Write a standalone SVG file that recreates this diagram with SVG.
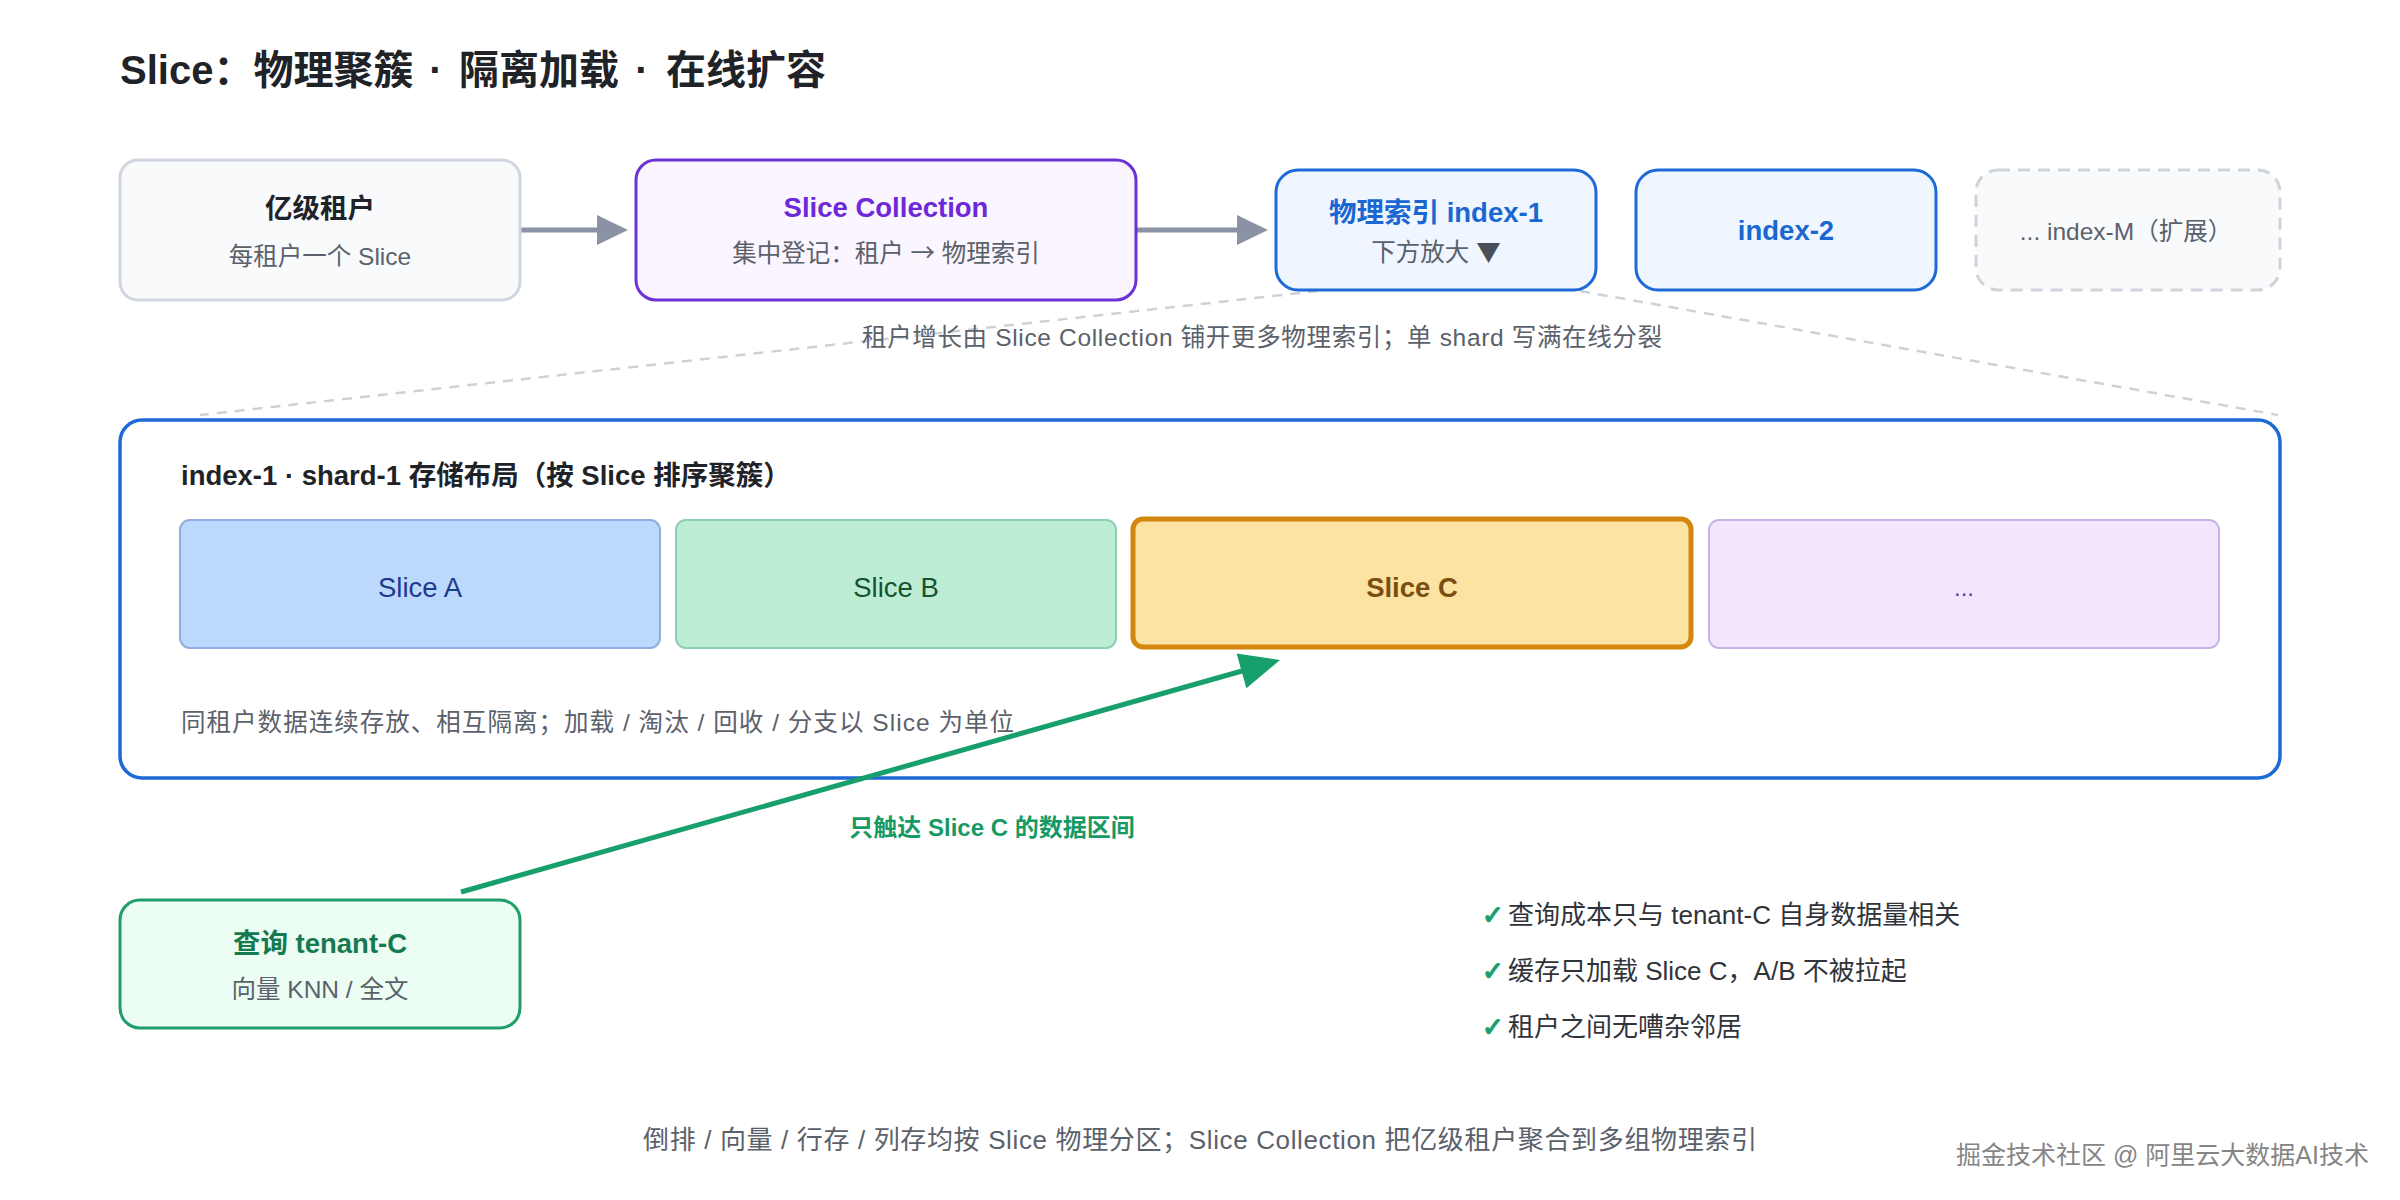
<svg xmlns="http://www.w3.org/2000/svg" width="2400" height="1200" viewBox="0 0 2400 1200">
<style>
text{font-family:"Liberation Sans","Noto Sans CJK SC",sans-serif}
.t{font-size:27.5px;font-weight:bold}
.s{font-size:24.5px;fill:#5b616b}
.c{text-anchor:middle}
.cjk{font-family:"Noto Sans CJK SC",sans-serif}
.hdr{stroke-width:3}
.slice{stroke-width:2}
.dash{stroke:#cdd2da;stroke-width:2.5;stroke-dasharray:10 8;fill:none}
.gray{stroke:#8a93a3;stroke-width:5;fill:none}
.green{stroke:#17a06b;stroke-width:5;fill:none}
.chk{fill:#17a06b;stroke:#17a06b;stroke-width:1.3;font-family:"DejaVu Sans",sans-serif;font-size:26px}
.li{font-size:26px;fill:#30343a}
</style>
<rect width="2400" height="1200" fill="#ffffff"/>
<g id="title">
<text x="120" y="84" font-size="40" font-weight="bold" fill="#1f2328">Slice：物理聚簇</text>
<text x="436" y="84" font-size="40" font-weight="bold" fill="#1f2328" text-anchor="middle">·</text>
<text x="459" y="84" font-size="40" font-weight="bold" fill="#1f2328">隔离加载</text>
<text x="642" y="84" font-size="40" font-weight="bold" fill="#1f2328" text-anchor="middle">·</text>
<text x="666" y="84" font-size="40" font-weight="bold" fill="#1f2328">在线扩容</text>
</g>
<g id="connectors">
<line class="dash" x1="1318" y1="291" x2="200" y2="415"/>
<line class="dash" x1="1580" y1="291" x2="2278" y2="415"/>
<line class="gray" x1="520" y1="230" x2="600" y2="230"/>
<polygon points="597,215 628,230 597,245" fill="#8a93a3"/>
<line class="gray" x1="1136" y1="230" x2="1240" y2="230"/>
<polygon points="1237,215 1268,230 1237,245" fill="#8a93a3"/>
</g>
<g id="tenants">
<rect x="120" y="160" width="400" height="140" rx="18" fill="#f8fafc" stroke="#cfd6df" class="hdr"/>
<text class="t c" x="320" y="218" fill="#1f2328">亿级租户</text>
<text class="s c" x="320" y="265">每租户一个 Slice</text>
</g>
<g id="slice-collection">
<rect x="636" y="160" width="500" height="140" rx="20" fill="#faf5ff" stroke="#6d32d6" class="hdr"/>
<text class="t c" x="886" y="217" fill="#6d28d9">Slice Collection</text>
<text class="s c" x="886" y="262">集中登记：租户 <tspan class="cjk">→</tspan> 物理索引</text>
</g>
<g id="index-1">
<rect x="1276" y="170" width="320" height="120" rx="22" fill="#eff6ff" stroke="#1d6ad6" class="hdr"/>
<text class="t c" x="1436" y="222" fill="#1a66d2">物理索引 index-1</text>
<text class="s c" x="1436" y="261">下方放大 <tspan class="cjk" fill="#4a4f57">▼</tspan></text>
</g>
<g id="index-2">
<rect x="1636" y="170" width="300" height="120" rx="22" fill="#eff6ff" stroke="#1d6ad6" class="hdr"/>
<text class="t c" x="1786" y="240" fill="#1a66d2">index-2</text>
</g>
<g id="index-M">
<rect x="1976" y="170" width="304" height="120" rx="22" fill="#f8fafc" stroke="#cfd3da" stroke-width="3" stroke-dasharray="12 8"/>
<text class="s c" x="2126" y="240">... index-M（扩展）</text>
</g>
<text class="s c" x="1262" y="346" textLength="800" lengthAdjust="spacing">租户增长由 Slice Collection 铺开更多物理索引；单 shard 写满在线分裂</text>
<g id="shard-1">
<rect x="120" y="420" width="2160" height="358" rx="22" fill="#ffffff" stroke="#1d6ad6" stroke-width="3.5"/>
<text class="t" x="181" y="485" fill="#1f2328">index-1 · shard-1 存储布局（按 Slice 排序聚簇）</text>
<text class="s" x="181" y="731" textLength="833" lengthAdjust="spacing">同租户数据连续存放、相互隔离；加载 / 淘汰 / 回收 / 分支以 Slice 为单位</text>
</g>
<g id="slice-a">
<rect x="180" y="520" width="480" height="128" rx="10" fill="#bdd8fd" stroke="#8eaee0" class="slice"/>
<text class="c" x="420" y="597" font-size="27.5" fill="#1e3a8a">Slice A</text>
</g>
<g id="slice-b">
<rect x="676" y="520" width="440" height="128" rx="10" fill="#bdecd4" stroke="#8fceae" class="slice"/>
<text class="c" x="896" y="597" font-size="27.5" fill="#14532d">Slice B</text>
</g>
<g id="slice-c">
<rect x="1133" y="519" width="558" height="128" rx="10" fill="#fde3a2" stroke="#d4870e" stroke-width="5"/>
<text class="c" x="1412" y="597" font-size="27.5" font-weight="bold" fill="#7a4e12">Slice C</text>
</g>
<g id="slice-more">
<rect x="1709" y="520" width="510" height="128" rx="10" fill="#f2e7ff" stroke="#c8b2e6" class="slice"/>
<text class="c" x="1964" y="596" font-size="24" fill="#5b3e96">...</text>
</g>
<g id="query">
<rect x="120" y="900" width="400" height="128" rx="20" fill="#ecfdf3" stroke="#1f9d6a" stroke-width="3"/>
<text class="t c" x="320" y="953" fill="#157a4f">查询 tenant-C</text>
<text class="s c" x="320" y="998">向量 KNN / 全文</text>
</g>
<g id="query-connector">
<line class="green" x1="461" y1="892" x2="1242" y2="671"/>
<polygon points="1280,660 1236.6,653.6 1246.4,688.2" fill="#17a06b"/>
<text class="c" x="992" y="836" font-size="24" font-weight="bold" fill="#169a63">只触达 Slice C 的数据区间</text>
</g>
<g id="benefits">
<text class="chk" x="1482" y="924">✓</text>
<text class="li" x="1508" y="924">查询成本只与 tenant-C 自身数据量相关</text>
<text class="chk" x="1482" y="980">✓</text>
<text class="li" x="1508" y="980">缓存只加载 Slice C，A/B 不被拉起</text>
<text class="chk" x="1482" y="1036">✓</text>
<text class="li" x="1508" y="1036">租户之间无嘈杂邻居</text>
</g>
<text class="c" x="1200" y="1149" font-size="26" fill="#5b616b" textLength="1114" lengthAdjust="spacing">倒排 / 向量 / 行存 / 列存均按 Slice 物理分区；Slice Collection 把亿级租户聚合到多组物理索引</text>
<text x="2369" y="1164" font-size="25" fill="#858585" text-anchor="end">掘金技术社区 @ 阿里云大数据AI技术</text>
</svg>
